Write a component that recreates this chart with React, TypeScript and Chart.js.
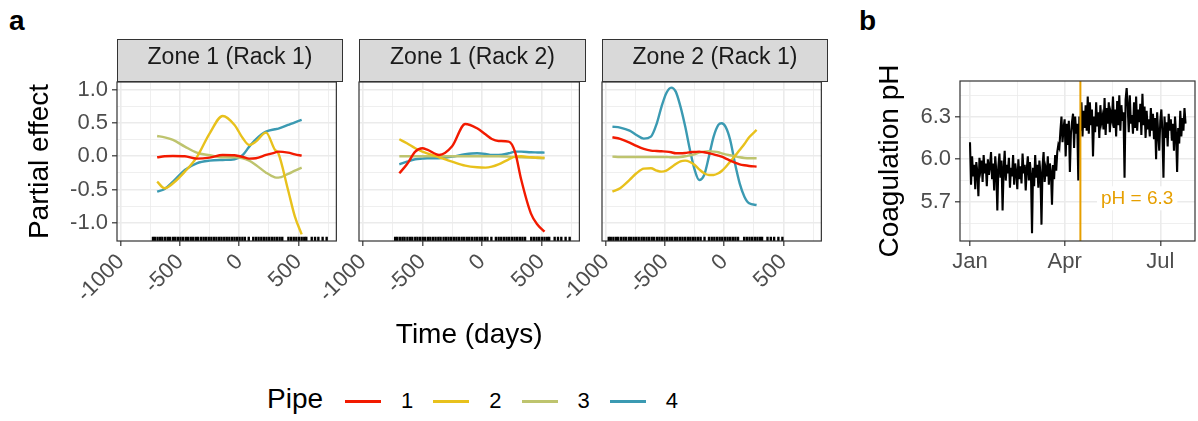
import React, { useEffect, useRef } from 'react';
import { Chart, registerables } from 'chart.js';

Chart.register(...registerables);

// ---------- shared labels ----------
const pipes = ['1', '2', '3', '4'];
const pipeColors = ['#F21A00', '#E8C11C', '#BEC46E', '#3B9AB2'];
const facetTitles = ['Zone 1 (Rack 1)', 'Zone 1 (Rack 2)', 'Zone 2 (Rack 1)'];

const xMajor = [-1000, -500, 0, 500];
const xMajorLabels = ['-1000', '-500', '0', '500'];
const xMinor = [-750, -250, 250, 750];
const yMajor = [-1, -0.5, 0, 0.5, 1];
const yMajorLabels = ['-1.0', '-0.5', '0.0', '0.5', '1.0'];
const yMinor = [-0.75, -0.25, 0.25, 0.75];

// ---------- Zone 1 (Rack 1) ----------
const z1r1Time = [-694, -630, -560, -460, -360, -250, -140, -40, 30, 84, 140, 226, 300, 330, 412, 470, 527];
const z1r1Pipe1 = [-0.015, 0.0, 0.005, 0.0, -0.035, -0.02, 0.02, 0.015, -0.01, -0.035, -0.03, 0.02, 0.055, 0.07, 0.055, 0.03, 0.01];
const z1r1Pipe2 = [-0.38, -0.48, -0.405, -0.23, -0.015, 0.345, 0.605, 0.47, 0.27, 0.17, 0.22, 0.355, 0.1, 0.045, -0.505, -0.905, -1.17];
const z1r1Pipe3 = [0.305, 0.285, 0.245, 0.145, 0.055, 0.015, -0.015, -0.015, -0.03, -0.065, -0.13, -0.245, -0.315, -0.32, -0.265, -0.215, -0.17];
const z1r1Pipe4 = [-0.53, -0.49, -0.38, -0.205, -0.105, -0.065, -0.055, -0.045, 0.02, 0.145, 0.255, 0.37, 0.405, 0.415, 0.47, 0.51, 0.545];

// ---------- Zone 1 (Rack 2) ----------
const z1r2Time = [-694, -630, -560, -500, -460, -360, -250, -140, -40, 30, 84, 140, 226, 280, 330, 412, 470, 527];
const z1r2Pipe1 = [-0.255, -0.12, 0.07, 0.12, 0.1, 0.02, 0.15, 0.485, 0.42, 0.33, 0.26, 0.23, 0.22, 0.06, -0.345, -0.855, -1.03, -1.13];
const z1r2Pipe2 = [0.255, 0.195, 0.12, 0.07, 0.045, -0.015, -0.08, -0.14, -0.165, -0.17, -0.155, -0.12, -0.045, -0.005, 0.0, -0.015, -0.018, -0.02];
const z1r2Pipe3 = [0.0, 0.0, 0.0, 0.0, 0.0, 0.0, 0.0, 0.0, 0.0, 0.0, 0.0, 0.0, -0.005, -0.01, -0.015, -0.02, -0.025, -0.03];
const z1r2Pipe4 = [-0.12, -0.08, -0.045, -0.035, -0.03, -0.03, -0.005, 0.03, 0.045, 0.035, 0.02, 0.02, 0.045, 0.07, 0.07, 0.06, 0.058, 0.055];

// ---------- Zone 2 (Rack 1) ----------
const z2r1Time = [-945, -880, -800, -742, -680, -620, -570, -530, -490, -448, -410, -370, -330, -290, -250, -212, -170, -130, -90, -50, -22, 10, 50, 90, 130, 170, 210, 273];
const z2r1Pipe1 = [0.285, 0.26, 0.205, 0.155, 0.11, 0.085, 0.08, 0.075, 0.07, 0.06, 0.045, 0.045, 0.05, 0.06, 0.065, 0.07, 0.06, 0.045, 0.03, 0.01, -0.005, -0.03, -0.065, -0.095, -0.12, -0.135, -0.145, -0.155];
const z2r1Pipe2 = [-0.53, -0.48, -0.355, -0.255, -0.185, -0.18, -0.215, -0.23, -0.215, -0.165, -0.115, -0.075, -0.065, -0.085, -0.13, -0.195, -0.255, -0.28, -0.28, -0.255, -0.22, -0.165, -0.08, 0.005, 0.095, 0.185, 0.285, 0.395];
const z2r1Pipe3 = [-0.005, -0.01, -0.01, -0.01, -0.01, -0.01, -0.01, -0.01, -0.01, -0.015, -0.015, -0.01, 0.0, 0.015, 0.03, 0.055, 0.07, 0.075, 0.07, 0.06, 0.045, 0.03, 0.015, 0.0, -0.015, -0.025, -0.03, -0.03];
const z2r1Pipe4 = [0.445, 0.43, 0.385, 0.32, 0.265, 0.295, 0.495, 0.745, 0.945, 1.03, 0.97, 0.745, 0.445, 0.095, -0.205, -0.355, -0.28, -0.005, 0.295, 0.47, 0.495, 0.445, 0.245, -0.105, -0.405, -0.605, -0.705, -0.73];

// ---------- rug (observation times) ----------
const rugY = -1.24;
const rugTimesRack = [-729, -712, -690, -668, -650, -626, -604, -585, -560, -541, -519, -497, -476, -452, -433, -410, -389, -366, -347, -322, -301, -280, -258, -236, -214, -193, -170, -150, -127, -106, -84, -61, -40, -18, 3, 26, 47, 80, 118, 141, 163, 186, 208, 230, 253, 275, 297, 319, 341, 363, 415, 437, 460, 482, 505, 527, 549, 566, 612, 640, 668, 704, 738];
const rugTimesZone2 = [-976, -959, -937, -915, -897, -873, -851, -832, -807, -788, -766, -744, -723, -699, -680, -657, -636, -613, -594, -569, -548, -527, -505, -483, -461, -440, -417, -397, -374, -353, -331, -308, -287, -265, -244, -221, -200, -167, -129, -106, -84, -61, -39, -17, 6, 28, 50, 72, 94, 116, 168, 190, 213, 235, 258, 280, 302, 319, 365, 393, 421, 457, 491];

const facetTimes = [z1r1Time, z1r2Time, z2r1Time];
const facetSeries = [
  [z1r1Pipe1, z1r1Pipe2, z1r1Pipe3, z1r1Pipe4],
  [z1r2Pipe1, z1r2Pipe2, z1r2Pipe3, z1r2Pipe4],
  [z2r1Pipe1, z2r1Pipe2, z2r1Pipe3, z2r1Pipe4],
];
const facetRugs = [rugTimesRack, rugTimesRack, rugTimesZone2];

// ---------- panel b: coagulation pH (day 0 = 1 Jan) ----------
const monthTicks = [0, 90, 181];
const monthLabels = ['Jan', 'Apr', 'Jul'];
const monthMinor = [45, 135.5];
const phMajor = [5.7, 6.0, 6.3];
const phMajorLabels = ['5.7', '6.0', '6.3'];
const phMinor = [5.55, 5.85, 6.15, 6.45];
const phChangeDay = 105;
const phChangeLabel = 'pH = 6.3';
const phLabelPos = { x: 159, y: 5.725 };
const phValues = [
  6.12, 5.82, 6.02, 5.88, 5.96, 5.79, 5.98, 5.91, 5.74, 6.01,
  5.93, 5.99, 5.84, 6.03, 5.9, 5.97, 5.81, 6.0, 5.89, 5.95,
  6.05, 5.86, 5.97, 5.78, 6.02, 5.92, 5.64, 5.95, 6.04, 5.87,
  5.99, 5.64, 5.93, 6.06, 5.85, 5.96, 5.9, 6.01, 5.8, 5.94,
  5.88, 6.03, 5.82, 5.97, 5.91, 5.79, 6.0, 5.86, 5.95, 5.83,
  6.04, 5.9, 5.96, 5.78, 5.93, 6.02, 5.85, 5.98, 5.89, 5.48,
  5.94, 5.81, 6.03, 5.87, 5.96, 5.8, 5.99, 5.9, 5.54, 5.95,
  6.05, 5.84, 5.93, 5.88, 6.02, 5.82, 5.97, 5.91, 5.68, 5.96,
  5.86, 6.03, 5.92, 6.05, 6.1, 6.08, 6.2, 6.3, 6.12, 6.22,
  6.28, 6.02, 6.25, 6.1, 6.27, 5.91, 6.18, 6.26, 6.32, 6.08,
  6.3, 6.18, 6.25, 5.85, 6.3, 6.2, 6.4, 6.16, 6.34, 6.22,
  6.38, 6.2, 6.44, 6.18, 6.4, 6.24, 6.35, 6.02, 6.3, 6.19,
  6.4, 6.23, 6.33, 6.15, 6.38, 6.26, 6.3, 6.21, 6.43, 6.17,
  6.36, 6.25, 6.4, 6.19, 6.32, 6.28, 6.44, 6.22, 6.35, 6.16,
  6.41, 6.24, 6.45, 6.2, 6.38, 6.27, 6.33, 5.87, 6.42, 6.5,
  6.37, 6.19, 6.45, 6.25, 6.31, 6.18, 6.4, 6.22, 6.44, 6.2,
  6.35, 6.26, 6.39, 6.17, 6.46, 6.24, 6.37, 6.15, 6.34, 6.21,
  6.28, 6.16, 6.36, 6.2, 6.32, 6.14, 6.29, 6.0, 6.33, 6.18,
  6.06, 6.27, 6.35, 6.19, 5.87, 6.3, 6.15, 6.26, 6.09, 6.32,
  6.2, 6.28, 6.13, 6.25, 6.06, 6.3, 6.17, 5.91, 6.22, 6.11,
  6.34, 6.16, 6.29, 6.2, 6.36, 6.25,
];

// ---------- styling ----------
const FONT = '"Liberation Sans", Arial, Helvetica, sans-serif';
const GRID = '#EBEBEB';
const DARK = '#333333';
const TICKTXT = '#4D4D4D';

const facetLayout = [
  { left: 0, width: 350, pad: { left: 0, right: 7, top: 30, bottom: 0 } },
  { left: 309, width: 284, pad: { left: 50, right: 7, top: 30, bottom: 0 } },
  { left: 552, width: 283, pad: { left: 50, right: 7, top: 30, bottom: 0 } },
];
const panelRects = [
  { left: 117, width: 226 },
  { left: 359, width: 227 },
  { left: 602, width: 226 },
];

const panelBorder = {
  id: 'panelBorder',
  afterDraw(chart: any) {
    const { ctx, chartArea: a } = chart;
    ctx.save();
    ctx.strokeStyle = DARK;
    ctx.lineWidth = 1.2;
    ctx.strokeRect(a.left, a.top, a.right - a.left, a.bottom - a.top);
    ctx.restore();
  },
};

const phMarker = {
  id: 'phMarker',
  afterDatasetsDraw(chart: any) {
    const { ctx, chartArea: a, scales } = chart;
    const x = scales.x.getPixelForValue(phChangeDay);
    ctx.save();
    ctx.strokeStyle = '#E69F00';
    ctx.lineWidth = 2;
    ctx.beginPath();
    ctx.moveTo(x, a.top);
    ctx.lineTo(x, a.bottom);
    ctx.stroke();
    const lx = scales.x.getPixelForValue(phLabelPos.x);
    const ly = scales.y.getPixelForValue(phLabelPos.y);
    ctx.font = `19px ${FONT}`;
    const w = ctx.measureText(phChangeLabel).width;
    ctx.fillStyle = '#FFFFFF';
    ctx.fillRect(lx - w / 2 - 4, ly - 12, w + 8, 24);
    ctx.fillStyle = '#E69F00';
    ctx.textAlign = 'center';
    ctx.textBaseline = 'middle';
    ctx.fillText(phChangeLabel, lx, ly);
    ctx.restore();
  },
};

function gridOpts(major: number[], showTicks: boolean) {
  return {
    color: GRID,
    lineWidth: (c: any) => (major.includes(c.tick?.value) ? 1.6 : 0.8),
    drawTicks: showTicks,
    tickLength: 5,
    tickWidth: 1.2,
    tickColor: (c: any) => (major.includes(c.tick?.value) ? DARK : 'rgba(0,0,0,0)'),
  };
}

function facetConfig(i: number): any {
  const times = facetTimes[i];
  const datasets: any[] = facetSeries[i].map((vals, k) => ({
    type: 'line',
    label: pipes[k],
    data: times.map((t, j) => ({ x: t, y: vals[j] })),
    borderColor: pipeColors[k],
    borderWidth: 2.4,
    pointRadius: 0,
    cubicInterpolationMode: 'monotone',
    fill: false,
  }));
  datasets.push({
    type: 'scatter',
    label: 'rug',
    data: facetRugs[i].map((t) => ({ x: t, y: rugY })),
    pointStyle: 'line',
    rotation: 90,
    radius: 2.2,
    borderColor: '#000000',
    borderWidth: 2.4,
  });
  const xTicks = [...xMajor, ...xMinor].sort((a, b) => a - b);
  const yTicks = [...yMajor, ...yMinor].sort((a, b) => a - b);
  return {
    type: 'line',
    data: { datasets },
    plugins: [panelBorder],
    options: {
      animation: false,
      responsive: false,
      layout: { padding: facetLayout[i].pad },
      plugins: { legend: { display: false }, tooltip: { enabled: false } },
      scales: {
        x: {
          type: 'linear',
          min: -1033,
          max: 820,
          afterBuildTicks: (s: any) => { s.ticks = xTicks.map((v) => ({ value: v })); },
          afterFit: (s: any) => { s.height = 120; },
          ticks: {
            autoSkip: false,
            minRotation: 45,
            maxRotation: 45,
            padding: 3,
            color: TICKTXT,
            font: { family: FONT, size: 22 },
            callback: (v: any) => { const k = xMajor.indexOf(v); return k >= 0 ? xMajorLabels[k] : ''; },
          },
          grid: gridOpts(xMajor, true),
          border: { display: false },
          title: {
            display: i === 1,
            text: 'Time (days)',
            color: '#000000',
            font: { family: FONT, size: 28 },
            padding: { top: 0, bottom: 9 },
          },
        },
        y: {
          type: 'linear',
          min: -1.27,
          max: 1.114,
          afterBuildTicks: (s: any) => { s.ticks = yTicks.map((v) => ({ value: v })); },
          afterFit: (s: any) => { s.width = i === 0 ? 117 : 0; },
          ticks: {
            display: i === 0,
            autoSkip: false,
            padding: 4,
            color: TICKTXT,
            font: { family: FONT, size: 22 },
            callback: (v: any) => { const k = yMajor.indexOf(v); return k >= 0 ? yMajorLabels[k] : ''; },
          },
          grid: gridOpts(yMajor, i === 0),
          border: { display: false },
          title: {
            display: i === 0,
            text: 'Partial effect',
            color: '#000000',
            font: { family: FONT, size: 28 },
            padding: { top: 23, bottom: 0 },
          },
        },
      },
    },
  };
}

function phConfig(): any {
  const xTicks = [...monthTicks, ...monthMinor].sort((a, b) => a - b);
  const yTicks = [...phMajor, ...phMinor].sort((a, b) => a - b);
  return {
    type: 'line',
    data: {
      datasets: [{
        label: 'Coagulation pH',
        data: phValues.map((v, d) => ({ x: d, y: v })),
        borderColor: '#000000',
        borderWidth: 2.1,
        pointRadius: 0,
        tension: 0,
        fill: false,
      }],
    },
    plugins: [phMarker, panelBorder],
    options: {
      animation: false,
      responsive: false,
      layout: { padding: { left: 0, right: 3, top: 29, bottom: 0 } },
      plugins: { legend: { display: false }, tooltip: { enabled: false } },
      scales: {
        x: {
          type: 'linear',
          min: -9.5,
          max: 214,
          afterBuildTicks: (s: any) => { s.ticks = xTicks.map((v) => ({ value: v })); },
          afterFit: (s: any) => { s.height = 60; },
          ticks: {
            autoSkip: false,
            maxRotation: 0,
            minRotation: 0,
            padding: 3,
            color: TICKTXT,
            font: { family: FONT, size: 22 },
            callback: (v: any) => { const k = monthTicks.indexOf(v); return k >= 0 ? monthLabels[k] : ''; },
          },
          grid: gridOpts(monthTicks, true),
          border: { display: false },
        },
        y: {
          type: 'linear',
          min: 5.425,
          max: 6.55,
          afterBuildTicks: (s: any) => { s.ticks = yTicks.map((v) => ({ value: v })); },
          afterFit: (s: any) => { s.width = 100; },
          ticks: {
            autoSkip: false,
            padding: 4,
            color: TICKTXT,
            font: { family: FONT, size: 22 },
            callback: (v: any) => { const k = phMajor.indexOf(v); return k >= 0 ? phMajorLabels[k] : ''; },
          },
          grid: gridOpts(phMajor, true),
          border: { display: false },
          title: {
            display: true,
            text: 'Coagulation pH',
            color: '#000000',
            font: { family: FONT, size: 28 },
            padding: { top: 13, bottom: 0 },
          },
        },
      },
    },
  };
}

export default function App() {
  const r0 = useRef<HTMLCanvasElement>(null);
  const r1 = useRef<HTMLCanvasElement>(null);
  const r2 = useRef<HTMLCanvasElement>(null);
  const rb = useRef<HTMLCanvasElement>(null);

  useEffect(() => {
    const charts: Chart[] = [];
    [r0, r1, r2].forEach((r, i) => {
      if (r.current) charts.push(new Chart(r.current, facetConfig(i)));
    });
    if (rb.current) charts.push(new Chart(rb.current, phConfig()));
    return () => charts.forEach((c) => c.destroy());
  }, []);

  const facetRefs = [r0, r1, r2];

  return (
    <div style={{ position: 'absolute', left: 0, top: 0, width: 1198, height: 421, background: '#FFFFFF', overflow: 'hidden', fontFamily: FONT }}>
      {facetRefs.map((r, i) => (
        <canvas
          key={'c' + i}
          ref={r}
          width={facetLayout[i].width}
          height={309}
          style={{ position: 'absolute', left: facetLayout[i].left, top: 52, width: facetLayout[i].width, height: 309, display: 'block' }}
        />
      ))}
      <canvas
        ref={rb}
        width={338}
        height={249}
        style={{ position: 'absolute', left: 860, top: 52, width: 338, height: 249, display: 'block' }}
      />
      {facetTitles.map((t, i) => (
        <div
          key={'s' + i}
          style={{
            position: 'absolute', left: panelRects[i].left, top: 39, width: panelRects[i].width, height: 43,
            background: '#D9D9D9', border: `1.2px solid ${DARK}`, boxSizing: 'border-box',
          }}
        />
      ))}
      {facetTitles.map((t, i) => (
        <div
          key={'st' + i}
          style={{
            position: 'absolute', left: panelRects[i].left, top: 45, width: panelRects[i].width,
            fontSize: 23, lineHeight: '23px', textAlign: 'center', color: '#1A1A1A', whiteSpace: 'nowrap',
          }}
        >
          {t}
        </div>
      ))}
      <div style={{ position: 'absolute', left: 9, top: 7.3, fontSize: 28, lineHeight: '28px', fontWeight: 'bold', color: '#000' }}>a</div>
      <div style={{ position: 'absolute', left: 859, top: 7.3, fontSize: 28, lineHeight: '28px', fontWeight: 'bold', color: '#000' }}>b</div>
      <div style={{ position: 'absolute', left: 267, top: 385.3, fontSize: 28, lineHeight: '28px', color: '#000' }}>Pipe</div>
      {pipes.map((p, i) => (
        <React.Fragment key={'l' + i}>
          <div style={{ position: 'absolute', left: 345 + i * 88.3, top: 399.5, width: 36, height: 3, background: pipeColors[i] }} />
          <div style={{ position: 'absolute', left: 395 + i * 88.3, width: 24, top: 389.7, fontSize: 22, lineHeight: '22px', textAlign: 'center', color: '#000' }}>{p}</div>
        </React.Fragment>
      ))}
    </div>
  );
}
